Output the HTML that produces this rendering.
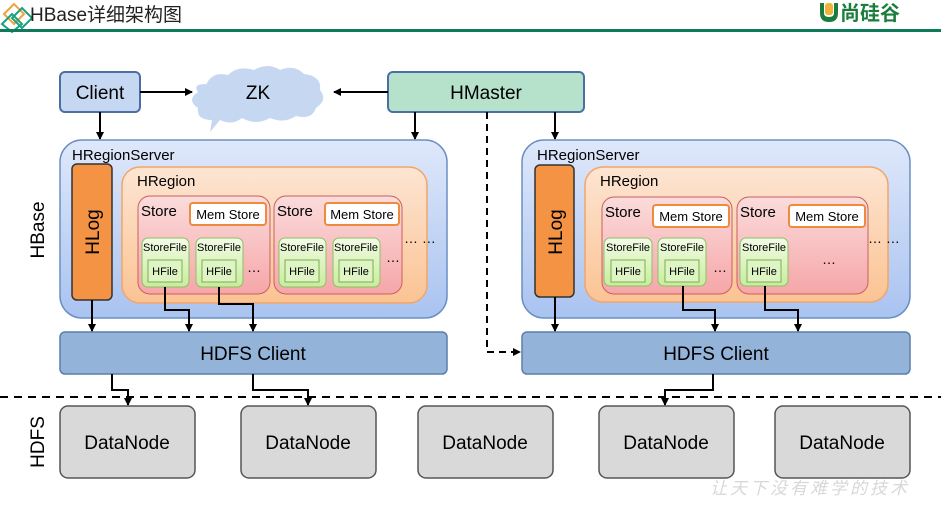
<!DOCTYPE html>
<html><head><meta charset="utf-8"><style>
body{margin:0;background:#fff;}
svg{display:block;font-family:"Liberation Sans","Noto Sans CJK SC",sans-serif;}
</style></head><body>
<svg width="941" height="508" viewBox="0 0 941 508" xmlns="http://www.w3.org/2000/svg">
<defs>
<marker id="a" markerWidth="8" markerHeight="8" refX="7" refY="4" orient="auto" markerUnits="userSpaceOnUse"><path d="M0,0 L8,4 L0,8z" fill="#000"/></marker>
<linearGradient id="rs" x1="0" y1="0" x2="0" y2="1"><stop offset="0" stop-color="#dfe8fa"/><stop offset="1" stop-color="#a9c3f0"/></linearGradient>
<linearGradient id="hr" x1="0" y1="0" x2="0" y2="1"><stop offset="0" stop-color="#fde5d3"/><stop offset="1" stop-color="#fbc393"/></linearGradient>
<linearGradient id="st" x1="0" y1="0" x2="0" y2="1"><stop offset="0" stop-color="#fbdcdc"/><stop offset="1" stop-color="#f6a6a8"/></linearGradient>
<linearGradient id="sf" x1="0" y1="0" x2="0" y2="1"><stop offset="0" stop-color="#f2fbe6"/><stop offset="1" stop-color="#c9ec9e"/></linearGradient>
</defs>
<!-- header -->
<g fill="none" stroke-width="2">
<path d="M4,14 L14,4 L24,14 L14,24z" stroke="#f1a33a"/>
<path d="M12,18 L22,8 L32,18 L22,28z" stroke="#19a07c"/>
<path d="M2,24 L12,14 L22,24 L12,32z" stroke="#19a07c"/>
</g>
<text x="30" y="21" font-size="19" fill="#222">HBase详细架构图</text>
<rect x="0" y="29" width="941" height="3" fill="#0f7a5a"/>
<path d="M820,3 L820,13 Q820,22 829,22 Q838,22 838,13 L838,3 L834,3 L834,13 Q834,17 829,17 Q824,17 824,13 L824,3z" fill="#1b7d3c"/>
<rect x="825" y="3" width="8" height="12" rx="3" fill="#f0b33a"/>
<text x="840" y="20" font-size="20" font-weight="bold" fill="#1b7d3c">尚硅谷</text>
<!-- top row -->
<rect x="60" y="72" width="80" height="40" rx="5" fill="#c6d8f1" stroke="#4b6fa5" stroke-width="2"/>
<text x="100" y="99" font-size="19" text-anchor="middle">Client</text>
<path d="M206,85 q6,-14 22,-10 q10,-10 26,-5 q14,-8 26,0 q14,-6 24,4 q18,2 16,16 q8,10 -4,18 q-4,12 -20,8 q-12,8 -26,2 q-14,8 -28,0 q-10,8 -22,2 l-10,12 l2,-12 q-16,0 -14,-12 q-12,-8 0,-16 q-6,-8 8,-8z" fill="#c6d8f1"/>
<text x="258" y="99" font-size="19" text-anchor="middle">ZK</text>
<rect x="388" y="72" width="196" height="40" rx="5" fill="#b6e2cc" stroke="#4b6fa5" stroke-width="2"/>
<text x="486" y="99" font-size="19" text-anchor="middle">HMaster</text>
<g stroke="#000" stroke-width="2" fill="none">
<line x1="140" y1="92" x2="192" y2="92" marker-end="url(#a)"/>
<line x1="388" y1="92" x2="334" y2="92" marker-end="url(#a)"/>
<line x1="100" y1="112" x2="100" y2="139" marker-end="url(#a)"/>
<line x1="415" y1="112" x2="415" y2="139" marker-end="url(#a)"/>
<line x1="555" y1="112" x2="555" y2="139" marker-end="url(#a)"/>
<polyline points="487,112 487,352 520,352" stroke-dasharray="7,5" marker-end="url(#a)"/>
</g>
<!-- left RS -->
<g>
<rect x="60" y="140" width="387" height="178" rx="22" fill="url(#rs)" stroke="#6b8fc4" stroke-width="1.5"/>
<text x="72" y="160" font-size="15">HRegionServer</text>
<rect x="72" y="164" width="40" height="136" rx="5" fill="#f59344" stroke="#333" stroke-width="1.5"/>
<text transform="translate(99,232) rotate(-90)" font-size="19" text-anchor="middle">HLog</text>
<rect x="122" y="167" width="305" height="136" rx="18" fill="url(#hr)" stroke="#f1a56a" stroke-width="1.5"/>
<text x="137" y="186" font-size="15">HRegion</text>
<rect x="138" y="196" width="132" height="98" rx="12" fill="url(#st)" stroke="#c86060" stroke-width="1"/>
<rect x="274" y="196" width="128" height="98" rx="12" fill="url(#st)" stroke="#c86060" stroke-width="1"/>
<text x="141" y="216" font-size="15">Store</text><text x="277" y="216" font-size="15">Store</text>
<rect x="190" y="203" width="76" height="22" rx="3" fill="#fff" stroke="#f08a3c" stroke-width="2"/>
<rect x="325" y="203" width="74" height="22" rx="3" fill="#fff" stroke="#f08a3c" stroke-width="2"/>
<text x="228" y="219" font-size="13" text-anchor="middle">Mem Store</text>
<text x="362" y="219" font-size="13" text-anchor="middle">Mem Store</text>
<g font-size="11" text-anchor="middle">
<rect x="142" y="238" width="47" height="49" rx="6" fill="url(#sf)" stroke="#8cc063"/><text x="165" y="251">StoreFile</text>
<rect x="148" y="260" width="34" height="22" fill="#dff4c4" stroke="#7ab04a"/><text x="165" y="275">HFile</text>
<rect x="196" y="238" width="47" height="49" rx="6" fill="url(#sf)" stroke="#8cc063"/><text x="219" y="251">StoreFile</text>
<rect x="202" y="260" width="34" height="22" fill="#dff4c4" stroke="#7ab04a"/><text x="219" y="275">HFile</text>
<rect x="279" y="238" width="47" height="49" rx="6" fill="url(#sf)" stroke="#8cc063"/><text x="302" y="251">StoreFile</text>
<rect x="285" y="260" width="34" height="22" fill="#dff4c4" stroke="#7ab04a"/><text x="302" y="275">HFile</text>
<rect x="333" y="238" width="47" height="49" rx="6" fill="url(#sf)" stroke="#8cc063"/><text x="356" y="251">StoreFile</text>
<rect x="339" y="260" width="34" height="22" fill="#dff4c4" stroke="#7ab04a"/><text x="356" y="275">HFile</text>
</g>
<text x="247" y="272" font-size="14">…</text><text x="386" y="262" font-size="14">…</text>
<text x="404" y="243" font-size="14">… …</text>
</g>
<!-- right RS -->
<g>
<rect x="522" y="140" width="388" height="178" rx="22" fill="url(#rs)" stroke="#6b8fc4" stroke-width="1.5"/>
<text x="537" y="160" font-size="15">HRegionServer</text>
<rect x="535" y="165" width="39" height="132" rx="5" fill="#f59344" stroke="#333" stroke-width="1.5"/>
<text transform="translate(562,232) rotate(-90)" font-size="19" text-anchor="middle">HLog</text>
<rect x="585" y="167" width="303" height="135" rx="18" fill="url(#hr)" stroke="#f1a56a" stroke-width="1.5"/>
<text x="600" y="186" font-size="15">HRegion</text>
<rect x="602" y="197" width="130" height="97" rx="12" fill="url(#st)" stroke="#c86060" stroke-width="1"/>
<rect x="737" y="197" width="131" height="97" rx="12" fill="url(#st)" stroke="#c86060" stroke-width="1"/>
<text x="605" y="217" font-size="15">Store</text><text x="740" y="217" font-size="15">Store</text>
<rect x="653" y="205" width="76" height="22" rx="3" fill="#fff" stroke="#f08a3c" stroke-width="2"/>
<rect x="789" y="205" width="76" height="22" rx="3" fill="#fff" stroke="#f08a3c" stroke-width="2"/>
<text x="691" y="221" font-size="13" text-anchor="middle">Mem Store</text>
<text x="827" y="221" font-size="13" text-anchor="middle">Mem Store</text>
<g font-size="11" text-anchor="middle">
<rect x="604" y="238" width="48" height="48" rx="6" fill="url(#sf)" stroke="#8cc063"/><text x="628" y="251">StoreFile</text>
<rect x="611" y="260" width="34" height="22" fill="#dff4c4" stroke="#7ab04a"/><text x="628" y="275">HFile</text>
<rect x="658" y="238" width="48" height="48" rx="6" fill="url(#sf)" stroke="#8cc063"/><text x="682" y="251">StoreFile</text>
<rect x="665" y="260" width="34" height="22" fill="#dff4c4" stroke="#7ab04a"/><text x="682" y="275">HFile</text>
<rect x="740" y="238" width="48" height="48" rx="6" fill="url(#sf)" stroke="#8cc063"/><text x="764" y="251">StoreFile</text>
<rect x="747" y="260" width="34" height="22" fill="#dff4c4" stroke="#7ab04a"/><text x="764" y="275">HFile</text>
</g>
<text x="713" y="272" font-size="14">…</text><text x="822" y="264" font-size="14">…</text>
<text x="868" y="243" font-size="14">… …</text>
</g>
<!-- HDFS clients -->
<rect x="60" y="332" width="387" height="42" rx="5" fill="#94b3d9" stroke="#5a7fae" stroke-width="1.5"/>
<text x="253" y="360" font-size="19" text-anchor="middle">HDFS Client</text>
<rect x="522" y="332" width="388" height="42" rx="5" fill="#94b3d9" stroke="#5a7fae" stroke-width="1.5"/>
<text x="716" y="360" font-size="19" text-anchor="middle">HDFS Client</text>
<g stroke="#000" stroke-width="2" fill="none">
<line x1="92" y1="300" x2="92" y2="331" marker-end="url(#a)"/>
<polyline points="165,287 165,310 189,310 189,331" marker-end="url(#a)"/>
<polyline points="219,287 219,304 253,304 253,331" marker-end="url(#a)"/>
<line x1="555" y1="297" x2="555" y2="331" marker-end="url(#a)"/>
<polyline points="683,286 683,310 715,310 715,331" marker-end="url(#a)"/>
<polyline points="765,286 765,310 798,310 798,331" marker-end="url(#a)"/>
<polyline points="112,374 112,390 128,390 128,405" marker-end="url(#a)"/>
<polyline points="253,374 253,390 308,390 308,405" marker-end="url(#a)"/>
<polyline points="713,374 713,390 665,390 665,405" marker-end="url(#a)"/>
</g>
<line x1="0" y1="397" x2="941" y2="397" stroke="#000" stroke-width="2" stroke-dasharray="8,6"/>
<text transform="translate(44,230) rotate(-90)" font-size="19" text-anchor="middle">HBase</text>
<text transform="translate(44,442) rotate(-90)" font-size="19" text-anchor="middle">HDFS</text>
<g font-size="19" text-anchor="middle">
<rect x="60" y="406" width="135" height="72" rx="8" fill="#d9d9d9" stroke="#555" stroke-width="1.5"/><text x="127" y="449">DataNode</text>
<rect x="241" y="406" width="135" height="72" rx="8" fill="#d9d9d9" stroke="#555" stroke-width="1.5"/><text x="308" y="449">DataNode</text>
<rect x="418" y="406" width="135" height="72" rx="8" fill="#d9d9d9" stroke="#555" stroke-width="1.5"/><text x="485" y="449">DataNode</text>
<rect x="599" y="406" width="135" height="72" rx="8" fill="#d9d9d9" stroke="#555" stroke-width="1.5"/><text x="666" y="449">DataNode</text>
<rect x="775" y="406" width="135" height="72" rx="8" fill="#d9d9d9" stroke="#555" stroke-width="1.5"/><text x="842" y="449">DataNode</text>
</g>
<text x="710" y="494" font-size="17" fill="#d8d8d8" font-style="italic" letter-spacing="3">让天下没有难学的技术</text>
</svg>
</body></html>
